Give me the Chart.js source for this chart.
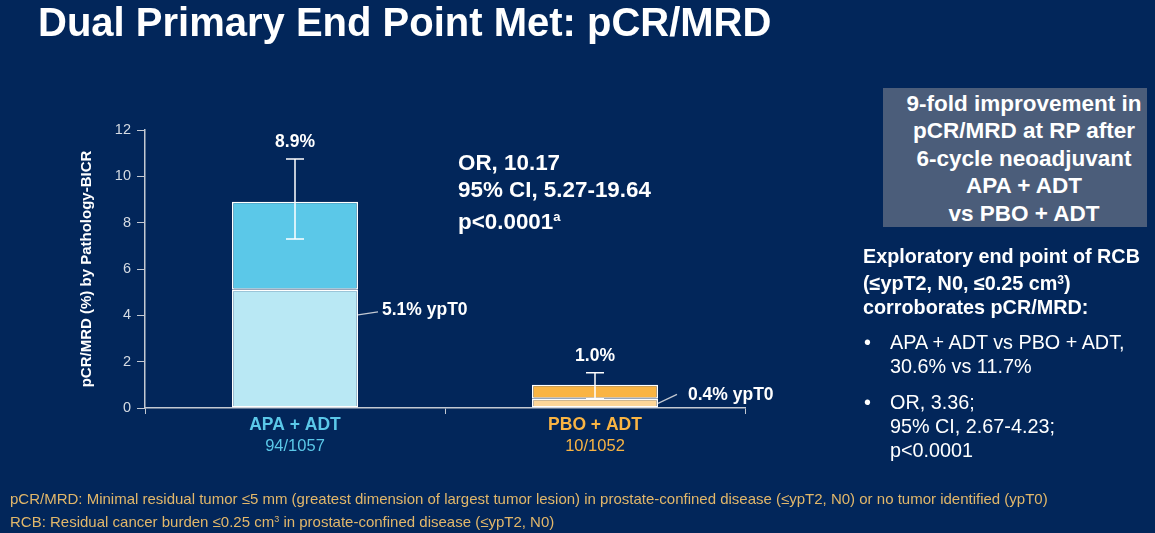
<!DOCTYPE html>
<html>
<head>
<meta charset="utf-8">
<script src="https://cdn.jsdelivr.net/npm/chart.js@4.4.0/dist/chart.umd.min.js"></script>
<style>
  body { margin: 0; background: #02265a; width: 1155px; height: 533px; overflow: hidden; position: relative;
         font-family: "Liberation Sans", Arial, sans-serif; color: #fff; }
  #c { position: absolute; left: 0; top: 0; }
  .t { position: absolute; white-space: nowrap; }
  #title { left: 38px; top: 0px; font-size: 40px; font-weight: bold; }
  #orTxt { left: 458px; top: 149px; font-size: 22.4px; font-weight: bold; line-height: 27px; }
  #orTxt sup { font-size: 13px; vertical-align: 8px; }
  #box { position: absolute; left: 883px; top: 88px; width: 264px; height: 139px; background: #4b5d7a;
         font-size: 22.5px; font-weight: bold; text-align: center; line-height: 27.4px; padding-top: 2px; padding-left: 18px; box-sizing: border-box; white-space: nowrap; }
  #expl { left: 863px; top: 244px; font-size: 19.8px; font-weight: bold; line-height: 24px; }
  #expl sup { font-size: 12px; vertical-align: 6px; }
  .bul { position: absolute; left: 864px; font-size: 19.8px; line-height: 24px; white-space: nowrap; }
  .bul span { position: absolute; left: 0; }
  .bul div { margin-left: 26px; }
  #foot { left: 10px; top: 489px; font-size: 15px; line-height: 20px; color: #e2b76a; }
  #foot sup { font-size: 9px; vertical-align: 5px; }
</style>
</head>
<body>
<canvas id="c" width="1155" height="533"></canvas>
<div class="t" id="title">Dual Primary End Point Met: pCR/MRD</div>
<div class="t" id="orTxt">OR, 10.17<br>95% CI, 5.27-19.64<br>p&lt;0.0001<sup>a</sup></div>
<div id="box">9-fold improvement in<br>pCR/MRD at RP after<br>6-cycle neoadjuvant<br>APA + ADT<br>vs PBO + ADT</div>
<div class="t" id="expl">Exploratory end point of RCB<br>(≤ypT2, N0, ≤0.25 cm<sup>3</sup>)<br>corroborates pCR/MRD:</div>
<div class="bul" style="top:330px"><span>•</span><div>APA + ADT vs PBO + ADT,<br>30.6% vs 11.7%</div></div>
<div class="bul" style="top:390px"><span>•</span><div>OR, 3.36;<br>95% CI, 2.67-4.23;<br>p&lt;0.0001</div></div>
<div class="t" id="foot">pCR/MRD: Minimal residual tumor ≤5 mm (greatest dimension of largest tumor lesion) in prostate-confined disease (≤ypT2, N0) or no tumor identified (ypT0)<br>RCB: Residual cancer burden ≤0.25 cm<sup>3</sup> in prostate-confined disease (≤ypT2, N0)</div>
<script>
// data
var arms = ['APA + ADT', 'PBO + ADT'];
var counts = ['94/1057', '10/1052'];
var pcrMrd = [8.9, 1.0];
var ypT0 = [5.1, 0.4];
var ciLow = [7.3, 0.4];
var ciHigh = [10.75, 1.52];
var yTicks = [0, 2, 4, 6, 8, 10, 12];

var armColor = ['#5bc8e8', '#f9b443'];
var lightColor = ['#b9e8f4', '#fdd699'];

var axisColor = '#c3c9d2';

var annot = {
  id: 'annot',
  afterDatasetsDraw: function(chart) {
    var ctx = chart.ctx, x = chart.scales.x, y = chart.scales.y;
    var meta = chart.getDatasetMeta(1);
    ctx.save();
    for (var i = 0; i < arms.length; i++) {
      var cx = x.getPixelForValue(i);
      var yh = y.getPixelForValue(ciHigh[i]), yl = y.getPixelForValue(ciLow[i]);
      // error bar
      ctx.strokeStyle = '#ffffff';
      ctx.lineWidth = 1.5;
      ctx.beginPath();
      ctx.moveTo(cx, yh); ctx.lineTo(cx, yl);
      ctx.moveTo(cx - 9, yh); ctx.lineTo(cx + 9, yh);
      ctx.moveTo(cx - 9, yl); ctx.lineTo(cx + 9, yl);
      ctx.stroke();
      // total label
      ctx.fillStyle = '#ffffff';
      ctx.font = 'bold 17.5px "Liberation Sans", Arial';
      ctx.textAlign = 'center';
      ctx.textBaseline = 'middle';
      ctx.fillText(pcrMrd[i].toFixed(1) + '%', cx, yh - 17);
      // ypT0 leader label
      var bar = meta.data[i];
      var right = bar.x + bar.width / 2;
      var ly = y.getPixelForValue(ypT0[i] / 2);
      ctx.strokeStyle = axisColor;
      ctx.lineWidth = 1.2;
      ctx.beginPath();
      if (i === 0) { ctx.moveTo(right, ly - 34); ctx.lineTo(right + 20, ly - 37); }
      else { ctx.moveTo(right, ly); ctx.lineTo(right + 19, ly - 9); }
      ctx.stroke();
      ctx.textAlign = 'left';
      ctx.fillText(ypT0[i].toFixed(1) + '% ypT0', i === 0 ? right + 24 : right + 30, i === 0 ? ly - 39 : ly - 8);
      // category labels
      ctx.textAlign = 'center';
      ctx.fillStyle = armColor[i];
      ctx.font = 'bold 17.5px "Liberation Sans", Arial';
      ctx.fillText(arms[i], cx, 425);
      ctx.font = '16.5px "Liberation Sans", Arial';
      ctx.fillText(counts[i], cx, 446);
    }
    ctx.restore();
  }
};

new Chart(document.getElementById('c'), {
  type: 'bar',
  data: {
    labels: arms,
    datasets: [{
      label: 'ypT0',
      data: ypT0.map(function(v) { return [0, v]; }),
      backgroundColor: lightColor,
      borderColor: '#ffffff',
      borderWidth: 1.5,
      borderSkipped: false,
      categoryPercentage: 1,
      barPercentage: 0.42,
      grouped: false
    }, {
      label: 'pCR/MRD',
      data: pcrMrd.map(function(v, i) { return [ypT0[i], v]; }),
      backgroundColor: armColor,
      borderColor: '#ffffff',
      borderWidth: 1.5,
      borderSkipped: false,
      categoryPercentage: 1,
      barPercentage: 0.42,
      grouped: false
    }]
  },
  options: {
    responsive: false,
    animation: false,
    devicePixelRatio: 1,
    layout: { padding: { left: 78, top: 130, right: 410, bottom: 105 } },
    plugins: { legend: { display: false }, tooltip: { enabled: false } },
    scales: {
      x: {
        offset: true,
        grid: { display: true, drawOnChartArea: false, color: axisColor, tickLength: 6, offset: true },
        border: { color: axisColor, width: 1.5 },
        ticks: { display: false },
        afterFit: function(s) { s.height = 20; }
      },
      y: {
        min: 0, max: 12,
        afterBuildTicks: function(s) { s.ticks = yTicks.map(function(v) { return { value: v }; }); },
        grid: { display: true, drawOnChartArea: false, color: axisColor, tickLength: 8 },
        border: { color: axisColor, width: 1.5 },
        ticks: { color: '#d5dbe3', font: { size: 14.5, family: '"Liberation Sans", Arial' }, padding: 6 },
        title: { display: true, text: 'pCR/MRD (%) by Pathology-BICR', color: '#ffffff',
                 font: { size: 15, weight: 'bold', family: '"Liberation Sans", Arial' }, padding: 0 },
        afterFit: function(s) { s.width = 67; }
      }
    }
  },
  plugins: [annot]
});
</script>
</body>
</html>
